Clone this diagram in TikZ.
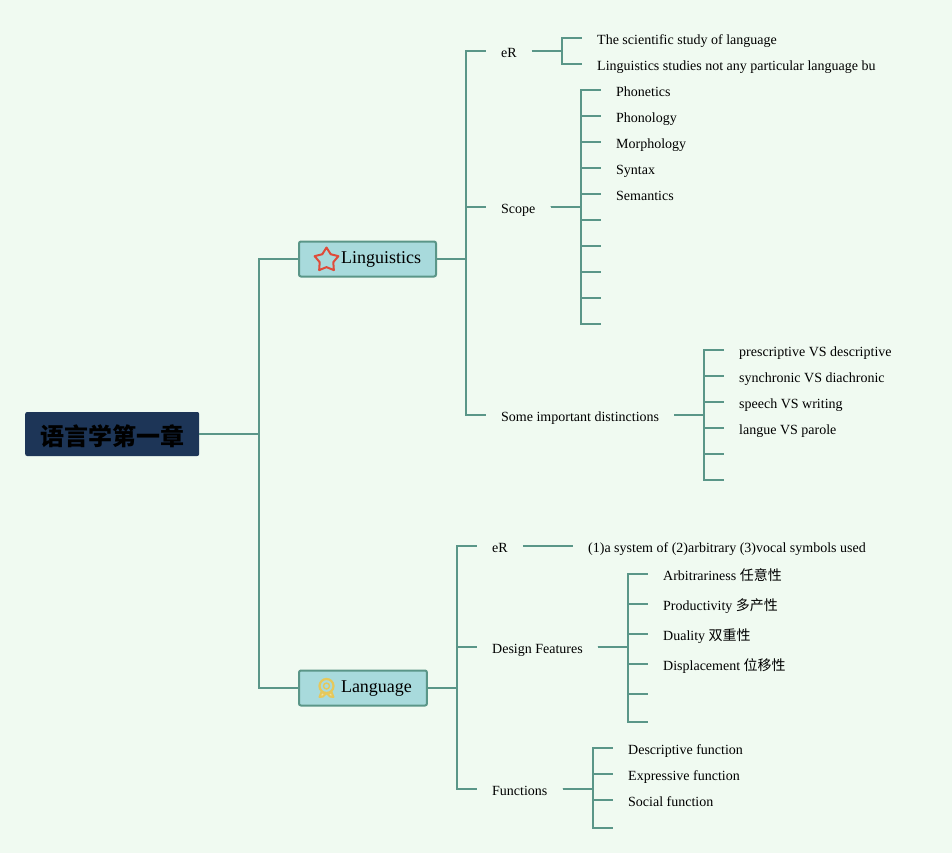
\documentclass[tikz,border=0pt]{standalone}
\usepackage{fontspec}
\setmainfont{Liberation Serif}
\newfontfamily\cjk{Noto Sans CJK SC}
\usepackage{xcolor}
\definecolor{cPage}{HTML}{F0FAF1}
\definecolor{cLink}{HTML}{5A9688}
\definecolor{cRoot}{HTML}{1D3557}
\definecolor{cMain}{HTML}{A8DADC}
\definecolor{cStar}{HTML}{DF4B3A}
\definecolor{cMedal}{HTML}{E6C85A}
\usetikzlibrary{shapes.geometric}
\tikzset{
  node-root/.style={fill=cRoot,rounded corners=2pt,anchor=west,minimum width=174pt,
    minimum height=44pt,inner sep=0pt,text height=24pt,text depth=2pt,
    font=\fontsize{24}{24}\cjk\bfseries},
  node-main/.style={draw=cLink,line width=2pt,fill=cMain,rounded corners=2pt,anchor=west,
    minimum height=35pt,inner xsep=15pt,inner ysep=0pt,text height=12pt,text depth=4pt,
    font=\fontsize{18}{18}\selectfont},
  node-leaf/.style={anchor=west,inner xsep=15pt,inner ysep=0pt,text height=13.6pt,text depth=1pt,
    font=\fontsize{14}{14}\selectfont},
  link/.style={line width=2pt,draw=cLink},
  elbow/.style={to path={-- ++(#1,0) |- (\tikztotarget)}},
  elbow/.default=30,
}
\begin{document}
\begin{tikzpicture}[x=1pt,y=-1pt]
  \path[use as bounding box,fill=cPage] (0,0) rectangle (952,853);

  \node[node-root] (root) at (25,434) {语言学第一章};
  \node[node-main] (ling) at (298,259) {\hspace{27pt}Linguistics};
  \node[node-main] (lang) at (298,688) {\hspace{27pt}Language};
  \draw[link] (root.east) to[elbow=60] (ling.west);
  \draw[link] (root.east) to[elbow=60] (lang.west);

  % Linguistics
  \node[node-leaf] (er1) at (486,51) {eR};
  \node[node-leaf] (scope) at (486,207) {Scope};
  \node[node-leaf] (dist) at (486,415) {Some important distinctions};
  \draw[link] (ling.east) to[elbow=29] (er1.west);
  \draw[link] (ling.east) to[elbow=29] (scope.west);
  \draw[link] (ling.east) to[elbow=29] (dist.west);

  \node[node-leaf] (er1a) at (582,38) {The scientific study of language};
  \node[node-leaf] (er1b) at (582,64) {Linguistics studies not any particular language bu};
  \draw[link] (er1.east) to[elbow] (er1a.west);
  \draw[link] (er1.east) to[elbow] (er1b.west);

  \node[node-leaf] (sc1) at (601,90) {Phonetics};
  \node[node-leaf] (sc2) at (601,116) {Phonology};
  \node[node-leaf] (sc3) at (601,142) {Morphology};
  \node[node-leaf] (sc4) at (601,168) {Syntax};
  \node[node-leaf] (sc5) at (601,194) {Semantics};
  \coordinate (sc6) at (601,220);
  \coordinate (sc7) at (601,246);
  \coordinate (sc8) at (601,272);
  \coordinate (sc9) at (601,298);
  \coordinate (sc10) at (601,324);
  \foreach \n in {sc1,sc2,sc3,sc4,sc5}
    \draw[link] (scope.east) to[elbow] (\n.west);
  \foreach \n in {sc6,sc7,sc8,sc9,sc10}
    \draw[link] (scope.east) to[elbow] (\n);

  \node[node-leaf] (di1) at (724,350) {prescriptive VS descriptive};
  \node[node-leaf] (di2) at (724,376) {synchronic VS diachronic};
  \node[node-leaf] (di3) at (724,402) {speech VS writing};
  \node[node-leaf] (di4) at (724,428) {langue VS parole};
  \coordinate (di5) at (724,454);
  \coordinate (di6) at (724,480);
  \foreach \n in {di1,di2,di3,di4}
    \draw[link] (dist.east) to[elbow] (\n.west);
  \foreach \n in {di5,di6}
    \draw[link] (dist.east) to[elbow] (\n);

  % Language
  \node[node-leaf] (er2) at (477,546) {eR};
  \node[node-leaf] (feat) at (477,647) {Design Features};
  \node[node-leaf] (func) at (477,789) {Functions};
  \draw[link] (lang.east) to[elbow=29] (er2.west);
  \draw[link] (lang.east) to[elbow=29] (feat.west);
  \draw[link] (lang.east) to[elbow=29] (func.west);

  \node[node-leaf] (er2a) at (573,546) {(1)a system of (2)arbitrary (3)vocal symbols used};
  \draw[link] (er2.east) -- (er2a.west);

  \node[node-leaf] (fe1) at (648,574) {Arbitrariness {\cjk 任意性}};
  \node[node-leaf] (fe2) at (648,604) {Productivity {\cjk 多产性}};
  \node[node-leaf] (fe3) at (648,634) {Duality {\cjk 双重性}};
  \node[node-leaf] (fe4) at (648,664) {Displacement {\cjk 位移性}};
  \coordinate (fe5) at (648,694);
  \coordinate (fe6) at (648,722);
  \foreach \n in {fe1,fe2,fe3,fe4}
    \draw[link] (feat.east) to[elbow=30] (\n.west);
  \foreach \n in {fe5,fe6}
    \draw[link] (feat.east) to[elbow=30] (\n);

  \node[node-leaf] (fu1) at (613,748) {Descriptive function};
  \node[node-leaf] (fu2) at (613,774) {Expressive function};
  \node[node-leaf] (fu3) at (613,800) {Social function};
  \coordinate (fu4) at (613,828);
  \foreach \n in {fu1,fu2,fu3}
    \draw[link] (func.east) to[elbow] (\n.west);
  \draw[link] (func.east) to[elbow] (fu4);

  % icons
  \node[star,star points=5,star point ratio=1.75,draw=cStar,line width=2pt,fill=none,
    line join=round,minimum size=25pt,inner sep=0pt] (staricon) at (326.5,260) {};
  \draw[cMedal,line width=2pt,fill=cMedal!60,line join=round] (321.5,692) -- (319.5,697) -- (323,696.5) -- (325.5,694) -- cycle
    (331.5,692) -- (333.5,697) -- (330,696.5) -- (327.5,694) -- cycle;
  \node[circle,draw=cMedal,line width=2.2pt,minimum size=14pt,inner sep=0pt] (medal) at (326.5,686) {};
  \node[circle,draw=cMedal,line width=1.4pt,minimum size=6pt,inner sep=0pt] (medalin) at (326.5,686) {};
\end{tikzpicture}
\end{document}
